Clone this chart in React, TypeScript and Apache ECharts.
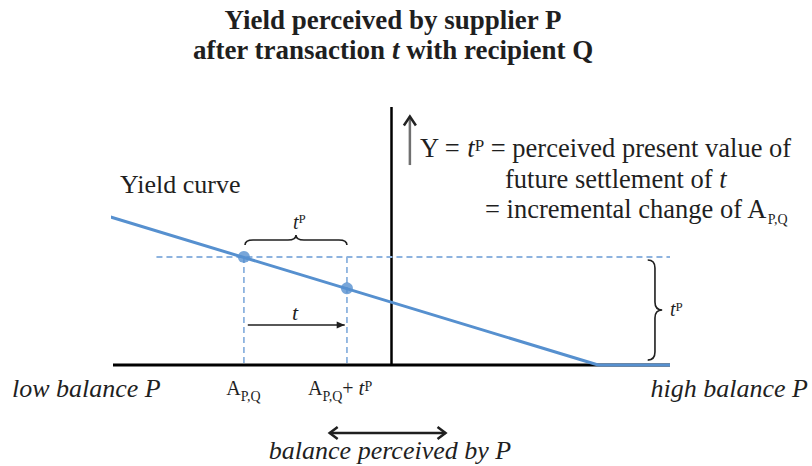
import React, { useEffect, useRef } from "react";
import * as echarts from "echarts";

// ---------- data (balance on x, perceived yield on y) ----------
const xRange = [-50, 50];
const yRange = [-30, 100];
const balanceAxisX = [-50, 50];
const yieldAxisY = [0, 100];
const yieldCurveX = [-50.5, 37.1, 50];
const yieldCurveY = [57.4, 0, 0];
const balanceA = -26.5;
const balanceAPlusTP = -8.0;
const yieldAtA = 41.9;
const yieldAtAPlusTP = 29.7;
const refLineX = [-42.2, 50];
const tArrowX = [-25.8, -8.4];
const tArrowY = 15.5;
const yArrowX = 3.3;
const yArrowY = [77.5, 96.3];
const perceivedArrowX = [-11.1, 9.7];
const perceivedArrowY = -26.4;
const topBraceX = [-26.3, -8.0];
const topBraceY = [46.5, 50.4];
const sideBraceX = [46.0, 48.6];
const sideBraceY = [40.7, 1.9];

// ---------- texts ----------
const titleLine1 = "Yield perceived by supplier P";
const titleLine2 = "after transaction {bi|t} with recipient Q";
const defLine1 = "Y = {i|t}{sup|P} = perceived present value of";
const defLine2 = "future settlement of {i|t}";
const defLine3 = "= incremental change of A{sub|P,Q}";
const curveLabel = "Yield curve";
const lowLabel = "low balance P";
const highLabel = "high balance P";
const aLabel = "A{sub|P,Q}";
const aPlusLabel = "A{sub|P,Q}+ {i|t}{sup|P}";
const tpLabel = "{i|t}{sup|P}";
const tLabel = "{i|t}";
const perceivedLabel = "balance perceived by P";

const ink = "#1f1f1f";
const serif = '"Liberation Serif", "Times New Roman", serif';
const blue = "#5690cf";
const dashBlue = "#8db3df";

type TokOpts = { italic?: boolean; bold?: boolean; shift?: number };
// shift > 0 moves the token down, < 0 moves it up (via padding)
const tok = (size: number, o: TokOpts = {}) => {
  const s = o.shift ?? 0;
  return {
    fontSize: size,
    fontFamily: serif,
    fontStyle: o.italic ? "italic" : "normal",
    fontWeight: o.bold ? "bold" : "normal",
    fill: ink,
    lineHeight: 40,
    verticalAlign: "middle",
    padding: s >= 0 ? [2 * s, 0, 0, 0] : [0, 0, -2 * s, 0],
  };
};

const txt = (
  x: number,
  y: number,
  text: string,
  size: number,
  align: string,
  o: { italic?: boolean; bold?: boolean } = {},
  rich: any = {}
) => {
  const fs = o.italic ? "italic" : "normal";
  const fw = o.bold ? "bold" : "normal";
  return {
    type: "text",
    x,
    y,
    silent: true,
    z: 20,
    style: {
      text,
      x: 0,
      y: 0,
      fill: ink,
      font: `${fs} ${fw} ${size}px ${serif}`,
      fontSize: size,
      fontFamily: serif,
      fontStyle: fs,
      fontWeight: fw,
      lineHeight: 40,
      align,
      textAlign: align,
      verticalAlign: "middle",
      textVerticalAlign: "middle",
      rich,
    },
  };
};

type Head = { len: number; half: number; filled: boolean; color: string; width: number };

const arrowSeries = (name: string, data: number[][], color: string, width: number, head: Head) => ({
  type: "custom",
  name,
  coordinateSystem: "cartesian2d",
  silent: true,
  z: 6,
  encode: { x: [0, 2], y: [1, 3] },
  data,
  renderItem: (_p: any, api: any) => {
    const a = api.coord([api.value(0), api.value(1)]);
    const b = api.coord([api.value(2), api.value(3)]);
    const children: any[] = [
      { type: "line", shape: { x1: a[0], y1: a[1], x2: b[0], y2: b[1] }, style: { stroke: color, lineWidth: width } },
    ];
    const mk = (tip: number[], from: number[]) => {
      const dx = tip[0] - from[0];
      const dy = tip[1] - from[1];
      const len = Math.hypot(dx, dy) || 1;
      const ux = dx / len, uy = dy / len;
      const nx = -uy, ny = ux;
      const bx = tip[0] - ux * head.len, by = tip[1] - uy * head.len;
      const pts = [
        [bx + nx * head.half, by + ny * head.half],
        [tip[0], tip[1]],
        [bx - nx * head.half, by - ny * head.half],
      ];
      return head.filled
        ? { type: "polygon", shape: { points: pts }, style: { fill: head.color } }
        : { type: "polyline", shape: { points: pts }, style: { stroke: head.color, lineWidth: head.width, fill: "none" } };
    };
    if (api.value(5)) children.push(mk(b, a));
    if (api.value(4)) children.push(mk(a, b));
    return { type: "group", children };
  },
});

const braceSeries = (name: string, data: number[][]) => ({
  type: "custom",
  name,
  coordinateSystem: "cartesian2d",
  silent: true,
  z: 6,
  data,
  renderItem: (_p: any, api: any) => {
    const p1 = api.coord([api.value(0), api.value(1)]);
    const p2 = api.coord([api.value(2), api.value(3)]);
    const tip = api.coord([api.value(4), api.value(5)]);
    const m = [(p1[0] + p2[0]) / 2, (p1[1] + p2[1]) / 2];
    const n = [(tip[0] - m[0]) / 2, (tip[1] - m[1]) / 2];
    const dx = p2[0] - p1[0], dy = p2[1] - p1[1];
    const len = Math.hypot(dx, dy) || 1;
    const u = [dx / len, dy / len];
    const r = Math.min(8, len / 5);
    const c1 = [p1[0] + n[0], p1[1] + n[1]];
    const c2 = [m[0] + n[0], m[1] + n[1]];
    const c3 = [p2[0] + n[0], p2[1] + n[1]];
    const f = (p: number[]) => `${p[0].toFixed(2)} ${p[1].toFixed(2)}`;
    const add = (p: number[], k: number) => [p[0] + u[0] * k, p[1] + u[1] * k];
    const d =
      `M ${f(p1)} Q ${f(c1)} ${f(add(c1, r))} L ${f(add(c2, -r))} Q ${f(c2)} ${f(tip)} ` +
      `Q ${f(c2)} ${f(add(c2, r))} L ${f(add(c3, -r))} Q ${f(c3)} ${f(p2)}`;
    return {
      type: "path",
      shape: { pathData: d },
      style: { stroke: ink, lineWidth: 1.6, fill: "none" },
    };
  },
});

export default function App() {
  const ref = useRef<HTMLDivElement>(null);
  useEffect(() => {
    if (!ref.current) return;
    const chart = echarts.init(ref.current, null, { renderer: "svg" });
    const option: any = {
      animation: false,
      backgroundColor: "#ffffff",
      grid: { left: 113, right: 142, top: 107, bottom: 23.6, containLabel: false },
      xAxis: { type: "value", min: xRange[0], max: xRange[1], show: false },
      yAxis: { type: "value", min: yRange[0], max: yRange[1], show: false },
      series: [
        {
          type: "line",
          name: "balance axis",
          data: balanceAxisX.map((x) => [x, 0]),
          symbol: "none",
          silent: true,
          z: 2,
          lineStyle: { color: "#000", width: 3 },
        },
        {
          type: "line",
          name: "yield axis",
          data: yieldAxisY.map((y) => [0, y]),
          symbol: "none",
          silent: true,
          z: 2,
          lineStyle: { color: "#000", width: 2.5 },
        },
        {
          type: "line",
          name: "reference level",
          data: refLineX.map((x) => [x, yieldAtA]),
          symbol: "none",
          silent: true,
          z: 3,
          lineStyle: { color: dashBlue, width: 2, type: [6, 4] },
        },
        {
          type: "line",
          name: "drop A",
          data: [[balanceA, yieldAtA], [balanceA, 0]],
          symbol: "none",
          silent: true,
          z: 3,
          lineStyle: { color: dashBlue, width: 1.8, type: [6, 4] },
        },
        {
          type: "line",
          name: "drop A+tP",
          data: [[balanceAPlusTP, yieldAtA], [balanceAPlusTP, 0]],
          symbol: "none",
          silent: true,
          z: 3,
          lineStyle: { color: dashBlue, width: 1.8, type: [6, 4] },
        },
        {
          type: "line",
          name: "Yield curve",
          data: yieldCurveX.map((x, i) => [x, yieldCurveY[i]]),
          symbol: "none",
          silent: true,
          clip: false,
          z: 4,
          lineStyle: { color: blue, width: 3 },
        },
        {
          type: "scatter",
          name: "points",
          data: [[balanceA, yieldAtA], [balanceAPlusTP, yieldAtAPlusTP]],
          symbolSize: 12,
          silent: true,
          z: 5,
          itemStyle: { color: blue },
        },
        arrowSeries("t arrow", [[tArrowX[0], tArrowY, tArrowX[1], tArrowY, 0, 1]], ink, 1.3, {
          len: 8,
          half: 3.5,
          filled: true,
          color: ink,
          width: 1,
        }),
        arrowSeries("Y arrow", [[yArrowX, yArrowY[0], yArrowX, yArrowY[1], 0, 1]], "#707070", 2.5, {
          len: 9,
          half: 6,
          filled: false,
          color: "#222",
          width: 2.5,
        }),
        arrowSeries(
          "perceived arrow",
          [[perceivedArrowX[0], perceivedArrowY, perceivedArrowX[1], perceivedArrowY, 1, 1]],
          ink,
          2.5,
          { len: 8, half: 6, filled: false, color: ink, width: 2.5 }
        ),
        braceSeries("braces", [
          [topBraceX[0], topBraceY[0], topBraceX[1], topBraceY[0], (topBraceX[0] + topBraceX[1]) / 2, topBraceY[1]],
          [sideBraceX[0], sideBraceY[0], sideBraceX[0], sideBraceY[1], sideBraceX[1], (sideBraceY[0] + sideBraceY[1]) / 2],
        ]),
      ],
      graphic: [
        txt(393, 19.5, titleLine1, 27, "center", { bold: true }),
        txt(393, 49.5, titleLine2, 27, "center", { bold: true }, { bi: tok(27, { bold: true, italic: true }) }),
        txt(420, 148, defLine1, 26.5, "left", {}, { i: tok(26.5, { italic: true }), sup: tok(17, { shift: -2.5 }) }),
        txt(505, 179, defLine2, 26.5, "left", {}, { i: tok(26.5, { italic: true }) }),
        txt(485, 209, defLine3, 26.5, "left", {}, { sub: tok(14, { shift: 10 }) }),
        txt(120, 184.5, curveLabel, 26, "left"),
        txt(12, 388, lowLabel, 26, "left", { italic: true }),
        txt(808, 388, highLabel, 26, "right", { italic: true }),
        txt(243.5, 388, aLabel, 20, "center", {}, { sub: tok(14, { shift: 8 }) }),
        txt(308, 388, aPlusLabel, 20, "left", {}, {
          sub: tok(14, { shift: 8 }),
          i: tok(21, { italic: true }),
          sup: tok(14, { shift: -2 }),
        }),
        txt(293, 221.5, tpLabel, 20, "left", {}, { i: tok(20, { italic: true }), sup: tok(13, { shift: -3 }) }),
        txt(670, 309, tpLabel, 20, "left", {}, { i: tok(20, { italic: true }), sup: tok(13, { shift: -3 }) }),
        txt(295, 312.6, tLabel, 22, "center", {}, { i: tok(22, { italic: true }) }),
        txt(390, 450, perceivedLabel, 26, "center", { italic: true }),
      ],
    };
    chart.setOption(option);
    return () => chart.dispose();
  }, []);
  return (
    <div
      ref={ref}
      style={{ position: "fixed", left: 0, top: 0, width: 812, height: 466, background: "#fff" }}
    />
  );
}
